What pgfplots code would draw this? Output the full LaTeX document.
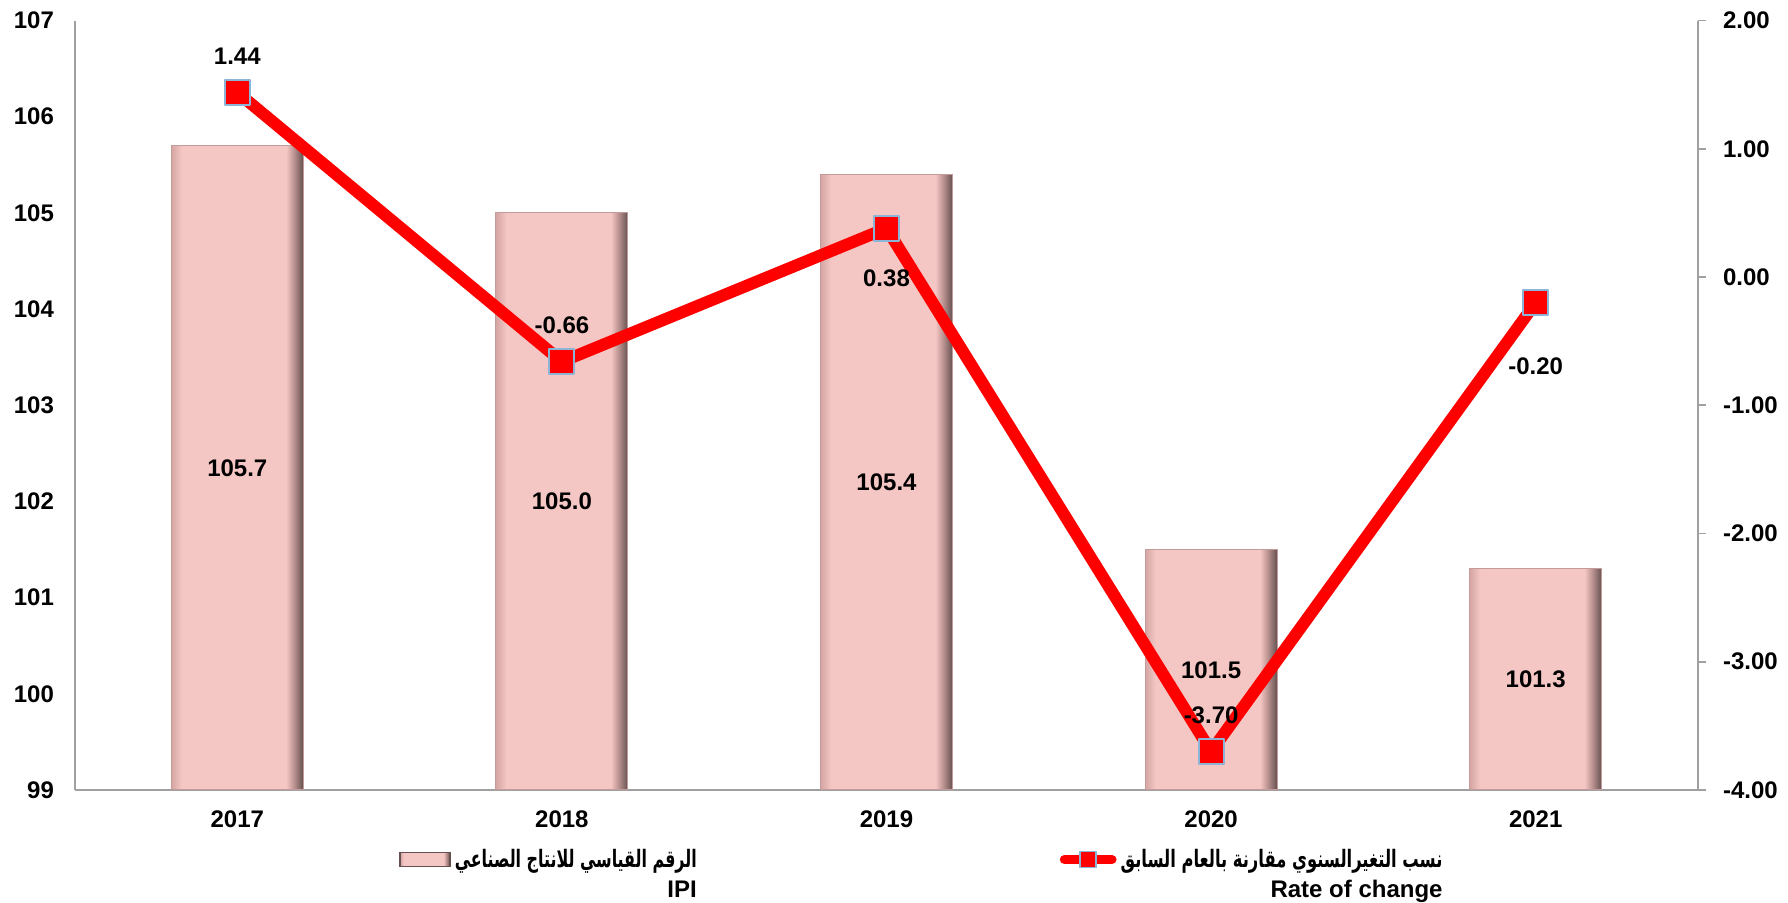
\documentclass[border=0pt]{standalone}
\usepackage{pgfplots}
\pgfplotsset{compat=1.18}
\usepackage{pgfplotstable}
\usepackage{graphicx}
\usepackage{fontspec}
\setmainfont{Liberation Sans}
\newfontfamily\arabicfont[Script=Arabic]{DejaVu Sans}
\TeXXeTstate=1
\definecolor{barpink}{RGB}{245,199,196}
\definecolor{bevL}{RGB}{212,165,163}
\definecolor{bevR1}{RGB}{185,145,143}
\definecolor{bevR2}{RGB}{100,80,80}
\definecolor{baredge}{RGB}{195,155,153}
\definecolor{axisgray}{RGB}{160,160,160}
\definecolor{markblue}{RGB}{140,180,215}
\pgfdeclarehorizontalshading{barbevel}{100bp}{color(0bp)=(bevL); color(25bp)=(bevL); color(29bp)=(barpink); color(68.5bp)=(barpink); color(71.5bp)=(bevR1); color(75bp)=(bevR2); color(100bp)=(bevR2)}

\pgfplotstableread{
x y
0 105.7
1 105.0
2 105.4
3 101.5
4 101.3
}\ipi
\pgfplotstableread{
x y off
0 1.44 18
1 -0.66 18
2 0.38 -25
3 -3.70 18
4 -0.20 -32
}\rate

\newcommand{\legA}{\begin{tabular}[t]{@{}r@{}}\resizebox{121pt}{\height}{\arabicfont\bfseries\beginR الرقم القياسي للانتاج الصناعي\endR}\\[1pt] IPI\end{tabular}}
\newcommand{\legB}{\begin{tabular}[t]{@{}r@{}}\resizebox{161pt}{\height}{\arabicfont\bfseries\beginR نسب التغيرالسنوي مقارنة بالعام السابق\endR}\\[1pt] Rate of change\end{tabular}}

\begin{document}
\begin{tikzpicture}
\path[use as bounding box] (-37.5pt,-56.5pt) rectangle (856.5pt,395pt);
\begin{axis}[
  at={(0,0)}, anchor=south west,
  scale only axis, width=811.5pt, height=384.75pt,
  xmin=-0.5, xmax=4.5, ymin=99, ymax=107,
  axis x line*=bottom, axis y line*=left,
  axis line style={axisgray, line width=0.9pt},
  xtick={0,...,4}, xticklabels={2017,2018,2019,2020,2021},
  ytick={99,...,107},
  major tick length=0pt,
  /pgf/number format/assume math mode=true,
  xticklabel style={font=\bfseries\fontsize{12}{14}\selectfont, yshift=-7pt},
  yticklabel style={font=\bfseries\fontsize{12}{14}\selectfont, xshift=-7pt},
  ybar, bar width=66pt,
]
\pgfplotsinvokeforeach{0,...,4}{
\addplot[bar shift=0pt, shading=barbevel, draw=baredge, line width=0.5pt,
  restrict x to domain=#1:#1,
  nodes near coords={\pgfmathprintnumber[fixed,fixed zerofill,precision=1]{\pgfplotspointmeta}},
  visualization depends on={(\thisrow{y}-99)*(-24.047) \as \barlbl},
  every node near coord/.append style={anchor=center, yshift=\barlbl pt, text=black, font=\bfseries\fontsize{12}{14}\selectfont},
  point meta=explicit] table[x=x, y=y, meta=y] {\ipi};
}
\end{axis}
\begin{axis}[
  at={(0,0)}, anchor=south west,
  scale only axis, width=811.5pt, height=384.75pt,
  xmin=-0.5, xmax=4.5, ymin=-4, ymax=2,
  axis x line=none, axis y line*=right,
  axis line style={axisgray, line width=0.9pt},
  ytick={-4,...,2},
  ytick style={axisgray, line width=0.9pt},
  tick align=outside, major tick length=4pt,
  /pgf/number format/assume math mode=true,
  yticklabel={\pgfmathprintnumber[fixed,fixed zerofill,precision=2]{\tick}},
  yticklabel style={font=\bfseries\fontsize{12}{14}\selectfont, xshift=5pt},
  legend columns=2,
  legend style={draw=none, fill=none, inner sep=0pt, at={(0.1995,-0.07)}, anchor=north west,
    font=\bfseries\fontsize{12}{14}\selectfont,
    /tikz/every even column/.append style={column sep=179.5pt}},
]
\addlegendimage{legend image code/.code={\draw[shading=barbevel, draw=bevR2, line width=0.8pt] (0pt,-3.5pt) rectangle (25pt,3.5pt);}}
\addlegendentry{\legA}
\addplot[red, line width=6pt, line join=round,
  mark=square*, mark size=6.25pt, mark options={fill=red, draw=markblue, line width=1pt, solid},
  nodes near coords={\pgfmathprintnumber[fixed,fixed zerofill,precision=2]{\pgfplotspointmeta}},
  visualization depends on={\thisrow{off} \as \linelbl},
  every node near coord/.append style={anchor=center, yshift=\linelbl pt, text=black, font=\bfseries\fontsize{12}{14}\selectfont},
  point meta=explicit,
  legend image code/.code={\draw[red, line width=4.7pt, line cap=round] (2.3pt,0pt) -- (26pt,0pt); \draw[fill=red, draw=markblue, line width=0.8pt] (10.2pt,-4pt) rectangle (18.2pt,4pt);}
  ] table[x=x, y=y, meta=y] {\rate};
\addlegendentry{\legB}
\end{axis}
\end{tikzpicture}
\end{document}
